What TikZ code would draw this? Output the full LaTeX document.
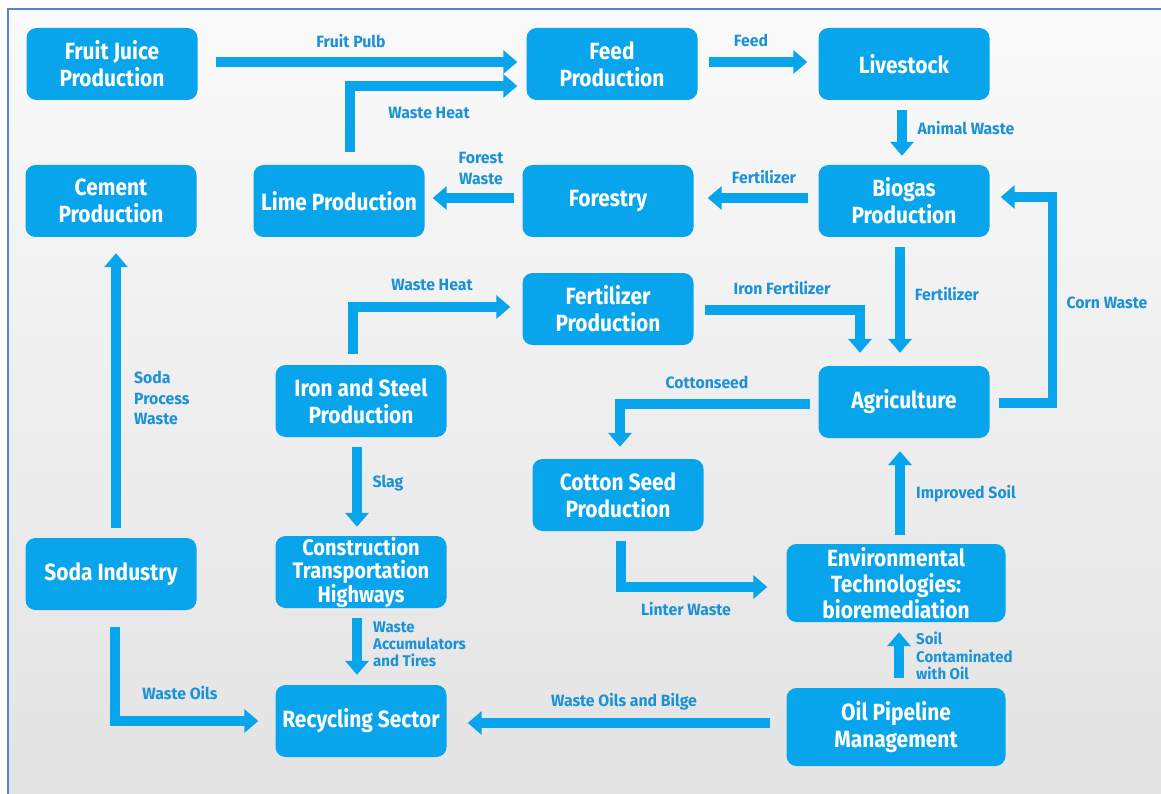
\documentclass[tikz,border=0pt]{standalone}
\usepackage{fontspec}
\setmainfont{Fira Sans}
\newfontfamily\boxfont{Fira Sans}[FakeStretch=0.89]
\newfontfamily\lblfont{Fira Sans}[FakeStretch=0.97]
\usetikzlibrary{arrows.meta}
\definecolor{boxblue}{RGB}{8,164,236}
\definecolor{lblblue}{RGB}{28,146,214}
\definecolor{framecol}{RGB}{84,132,206}
\begin{document}
\begin{tikzpicture}[x=1pt,y=-1pt,
  box/.style={rounded corners=10pt, fill=boxblue, text=white, minimum width=171pt,
    minimum height=72pt, align=center, inner sep=0pt,
    font=\boxfont\fontsize{23.5}{27}\selectfont\bfseries},
  widebox/.style={box, minimum width=219pt, minimum height=78pt},
  lbl/.style={text=lblblue, align=center, inner sep=0pt,
    font=\lblfont\fontsize{16.3}{20}\selectfont\bfseries},
  arr/.style={draw=boxblue, line width=9.5pt, line join=miter,
    -{Triangle[length=14pt,width=23pt]}}]
\useasboundingbox (0,0) rectangle (1161,794);
\fill[white] (0,0) rectangle (1161,794);
\shade[top color=white!98!black, bottom color=black!11] (8,9) rectangle (1161,794);
\draw[framecol, line width=2pt] (8,794) -- (8,9) -- (1161,9);

% boxes
\node[box] (fruit) at (112,64) {Fruit Juice\\Production};
\node[box] (feed) at (612,64) {Feed\\Production};
\node[box] (live) at (904,64) {Livestock};
\node[box] (cement) at (111,201) {Cement\\Production};
\node[box] (lime) at (339,201) {Lime Production};
\node[box] (forest) at (608,201) {Forestry};
\node[box] (biogas) at (904,201) {Biogas\\Production};
\node[box] (fert) at (608,309) {Fertilizer\\Production};
\node[box] (iron) at (361,401) {Iron and Steel\\Production};
\node[box] (agri) at (904,402) {Agriculture};
\node[box] (cotton) at (618,495) {Cotton Seed\\Production};
\node[box] (soda) at (111,574) {Soda Industry};
\node[box, font=\boxfont\fontsize{22.5}{23.5}\selectfont\bfseries] (constr) at (361,572) {Construction\\Transportation\\Highways};
\node[widebox, font=\boxfont\fontsize{23.5}{26}\selectfont\bfseries] (env) at (896,583) {Environmental\\Technologies:\\bioremediation};
\node[box] (recyc) at (361,721) {Recycling Sector};
\node[widebox] (oil) at (896,727) {Oil Pipeline\\Management};

% connectors
\draw[arr] ([xshift=18pt,yshift=2pt]fruit.east) -- ([xshift=-9pt,yshift=2pt]feed.west);
\draw[arr] ([xshift=11pt,yshift=13pt]lime.north) |- ([xshift=-9pt,yshift=-22pt]feed.west);
\draw[arr] ([xshift=11pt,yshift=2pt]feed.east) -- ([xshift=-11pt,yshift=2pt]live.west);
\draw[arr] ([xshift=-2pt,yshift=-10pt]live.south) -- ([xshift=-2pt,yshift=9pt]biogas.north);
\draw[arr] ([xshift=-10pt,yshift=3pt]biogas.west) -- ([xshift=14pt,yshift=3pt]forest.east);
\draw[arr] ([xshift=-8pt,yshift=3pt]forest.west) -- ([xshift=8pt,yshift=3pt]lime.east);
\draw[arr] ([xshift=5pt,yshift=10pt]soda.north) -- ([xshift=5pt,yshift=-16pt]cement.south);
\draw[arr] ([xshift=-8pt,yshift=11pt]iron.north) |- ([xshift=-12pt,yshift=2pt]fert.west);
\draw[arr] ([xshift=11pt,yshift=-1pt]fert.east) -| ([xshift=-44pt,yshift=13pt]agri.north);
\draw[arr] ([xshift=-4pt,yshift=-10pt]biogas.south) -- ([xshift=-4pt,yshift=13pt]agri.north);
\draw[arr] ([xshift=9pt,yshift=-1pt]agri.east) -- ++(54,0) |- ([xshift=11pt,yshift=4pt]biogas.east);
\draw[arr] ([xshift=-8pt,yshift=-2pt]agri.west) -| ([xshift=2pt,yshift=12pt]cotton.north);
\draw[arr] ([xshift=4pt,yshift=9pt]env.north) -- ([xshift=-4pt,yshift=-13pt]agri.south);
\draw[arr] ([xshift=3pt,yshift=-10pt]cotton.south) |- ([xshift=-19pt,yshift=-4pt]env.west);
\draw[arr] ([xshift=-4pt,yshift=-10pt]iron.south) -- ([xshift=-4pt,yshift=9pt]constr.north);
\draw[arr] ([xshift=-4pt,yshift=-10pt]constr.south) -- ([xshift=-4pt,yshift=10pt]recyc.north);
\draw[arr] ([xshift=4pt,yshift=-17pt]soda.south) |- ([xshift=-17pt]recyc.west);
\draw[arr] ([xshift=-16pt,yshift=4pt]oil.west) -- ([xshift=21pt,yshift=-2pt]recyc.east);
\draw[arr] ([xshift=3pt,yshift=10pt]oil.north) -- ([xshift=3pt,yshift=-10pt]env.south);

% labels
\node[lbl] (l1) at (351,41) {Fruit Pulb};
\node[lbl] (l2) at (429,113) {Waste Heat};
\node[lbl] (l3) at (751,40) {Feed};
\node[lbl] (l4) at (966,128) {Animal Waste};
\node[lbl] (l5) at (764,177) {Fertilizer};
\node[lbl, font=\lblfont\fontsize{16.3}{21}\selectfont\bfseries] (l6) at (481,168) {Forest\\Waste};
\node[lbl, align=left, anchor=west, font=\lblfont\fontsize{16.3}{20.5}\selectfont\bfseries] (l7) at (134,398) {Soda\\Process\\Waste};
\node[lbl] (l8) at (432,285) {Waste Heat};
\node[lbl] (l9) at (782,288) {Iron Fertilizer};
\node[lbl] (l10) at (947,294) {Fertilizer};
\node[lbl] (l11) at (1107,303) {Corn Waste};
\node[lbl] (l12) at (707,382) {Cottonseed};
\node[lbl] (l13) at (966,494) {Improved Soil};
\node[lbl] (l14) at (388,483) {Slag};
\node[lbl] (l15) at (686,609) {Linter Waste};
\node[lbl, align=left, anchor=west, font=\lblfont\fontsize{15.5}{17}\selectfont\bfseries] (l16) at (373,644) {Waste\\Accumulators\\and Tires};
\node[lbl] (l17) at (180,693) {Waste Oils};
\node[lbl] (l18) at (624,702) {Waste Oils and Bilge};
\node[lbl, align=left, anchor=west, font=\lblfont\fontsize{15.5}{17.5}\selectfont\bfseries] (l19) at (916,656) {Soil\\Contaminated\\with Oil};
\end{tikzpicture}
\end{document}
